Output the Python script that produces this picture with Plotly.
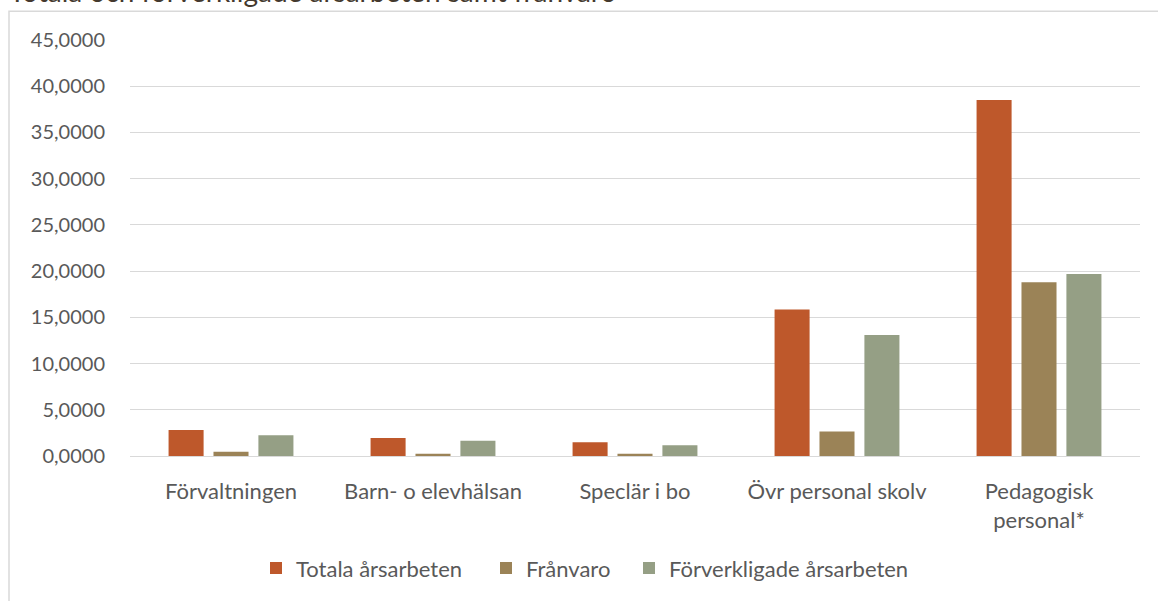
import plotly.graph_objects as go

categories = ["Förvaltningen", "Barn- o elevhälsan", "Speclär i bo", "Övr personal skolv", "Pedagogisk<br>personal*"]
series_names = ["Totala årsarbeten", "Frånvaro", "Förverkligade årsarbeten"]
totala = [2.8, 1.95, 1.5, 15.85, 38.5]
franvaro = [0.45, 0.25, 0.25, 2.65, 18.8]
forverkligade = [2.25, 1.65, 1.15, 13.1, 19.7]
colors = ["#BE582B", "#9B8357", "#959F85"]
tick_vals = [0, 5, 10, 15, 20, 25, 30, 35, 40, 45]
tick_text = ["0,0000", "5,0000", "10,0000", "15,0000", "20,0000", "25,0000", "30,0000", "35,0000", "40,0000", "45,0000"]
title_text = "Totala och förverkligade årsarbeten samt frånvaro"

FONT = "Lato, Open Sans, sans-serif"
GRAY = "#595959"

W, H = 1158, 601
ml, mr, mt, mb = 130, 18, 40, 142
pw, ph = W - ml - mr, H - mt - mb

def px_x(p):
    return (p - ml) / pw

def px_y(p):
    return (H - mb - p) / ph

legend_names = ["legend", "legend2", "legend3"]
legend_text_x = [296, 526, 669]

fig = go.Figure()
for name, vals, c, lg in zip(series_names, [totala, franvaro, forverkligade], colors, legend_names):
    fig.add_trace(go.Bar(x=categories, y=vals, name=name, legend=lg,
                         marker=dict(color=c, line=dict(width=0))))

leg_common = dict(orientation="h", yanchor="middle", y=px_y(572), xanchor="left",
                  font=dict(size=22, color=GRAY, family=FONT), bgcolor="rgba(0,0,0,0)")
legends = {}
for lg, tx in zip(legend_names, legend_text_x):
    d = dict(leg_common)
    d["x"] = px_x(tx - 40)
    legends[lg] = d

fig.update_layout(
    width=W, height=H,
    margin=dict(l=ml, r=mr, t=mt, b=mb),
    paper_bgcolor="white", plot_bgcolor="white",
    barmode="group", bargap=0.333, bargroupgap=0.22,
    font=dict(family=FONT, size=20, color=GRAY),
    showlegend=True,
    xaxis=dict(showgrid=False, showline=False, zeroline=False, ticks="", ticklabelstandoff=20,
               tickfont=dict(size=22, color=GRAY)),
    yaxis=dict(range=[0, 45], tickvals=tick_vals, ticktext=tick_text, showgrid=True,
               gridcolor="#D9D9D9", gridwidth=1, zeroline=True, zerolinecolor="#D9D9D9", zerolinewidth=1,
               showline=False, ticks="", ticklabelstandoff=24, tickfont=dict(size=20, color=GRAY)),
    shapes=[dict(type="rect", xref="paper", yref="paper",
                 x0=px_x(9), x1=px_x(1175), y0=px_y(620), y1=px_y(11),
                 line=dict(color="#D9D9D9", width=1.5), fillcolor="rgba(0,0,0,0)", layer="below")],
    annotations=[dict(text=title_text, xref="paper", yref="paper", x=px_x(7), y=px_y(10),
                      xanchor="left", yanchor="bottom", showarrow=False,
                      font=dict(size=28, color="#44392E", family=FONT))],
    **legends,
)

fig.write_html("out.html", config={"displayModeBar": False},
               post_script="document.body.style.margin='0';document.body.style.overflow='hidden';")
